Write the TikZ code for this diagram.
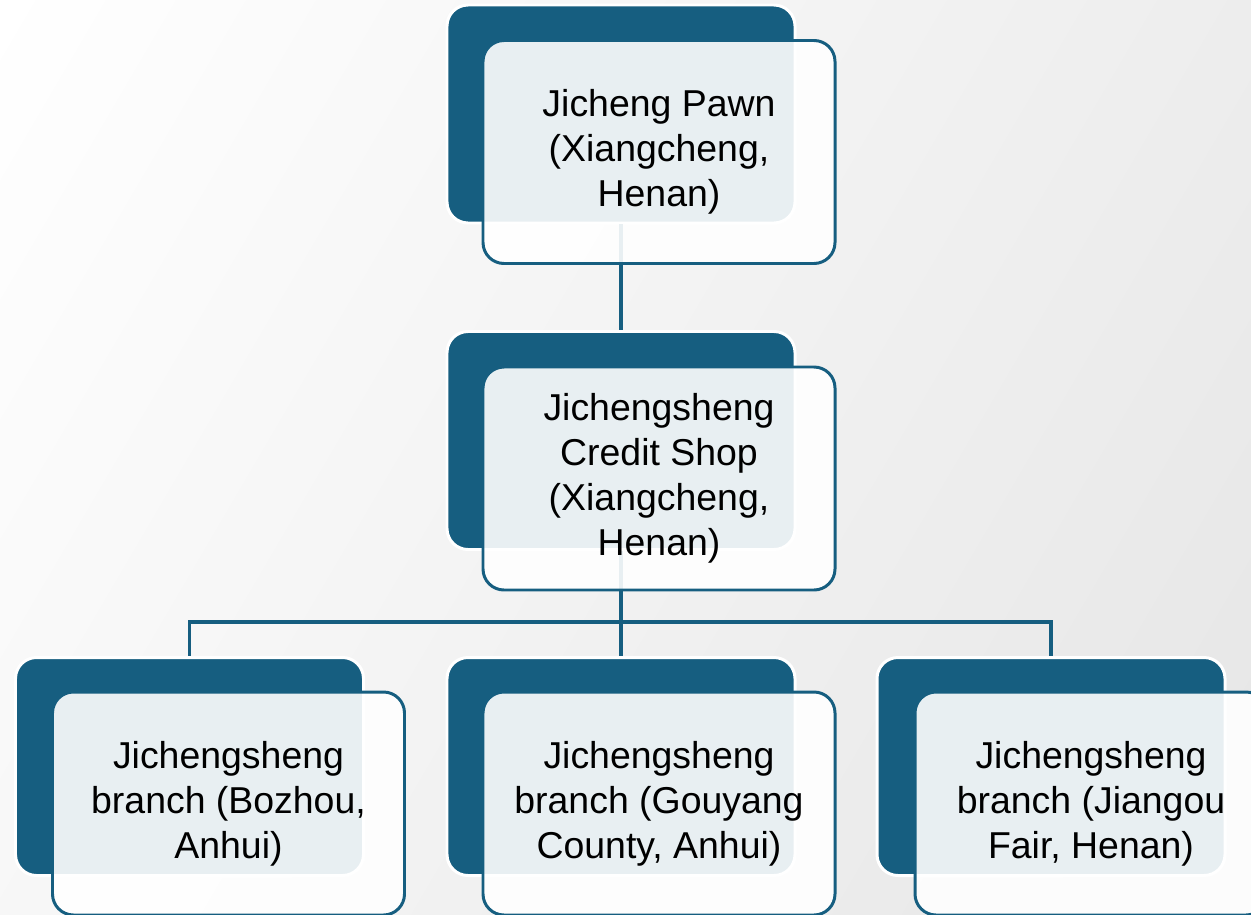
\documentclass[tikz,border=0pt]{standalone}
\usepackage{fontspec}
\setmainfont{Liberation Sans}
\usetikzlibrary{shadings}
\definecolor{darkteal}{RGB}{22,94,128}
\begin{document}
\begin{tikzpicture}[
	backbox/.style={draw=white, line width=1.7pt, fill=darkteal, rounded corners=0.42cm,
		minimum width=6.96cm, minimum height=4.36cm, inner sep=0pt},
	frontbox/.style={draw=darkteal, line width=1.7pt, fill=white, fill opacity=0.9, text opacity=1,
		rounded corners=0.42cm, minimum width=7.04cm, minimum height=4.46cm, inner sep=0pt,
		align=center, font=\fontsize{21.3pt}{25.6pt}\selectfont},
	link/.style={draw=darkteal, line width=2.2pt}]
	\useasboundingbox (0,0) rectangle (25.02,-18.3);
	\clip (0,0) rectangle (25.02,-18.3);
	\shade[upper left=white, upper right=black!7, lower left=black!3, lower right=black!10]
	(0,0) rectangle (25.02,-18.3);
	% back boxes
	\node[backbox] (pawnback) at (12.42,-2.28) {};
	\node[backbox] (shopback) at (12.42,-8.81) {};
	\node[backbox] (bozhouback) at (3.79,-15.33) {};
	\node[backbox] (gouyangback) at (12.42,-15.33) {};
	\node[backbox] (jiangouback) at (21.02,-15.33) {};
	% links
	\coordinate (bar) at (12.42,-12.44);
	\draw[link] (pawnback.south)--(shopback.north);
	\draw[link] (shopback.south)--(bar);
	\draw[link] (bar)-|(bozhouback.north);
	\draw[link] (bar)--(gouyangback.north);
	\draw[link] (bar)-|(jiangouback.north);
	% front boxes
	\node[frontbox] (pawn) at ([shift={(0.76,-0.76)}]pawnback.center)
	{Jicheng Pawn\\(Xiangcheng,\\Henan)};
	\node[frontbox] (shop) at ([shift={(0.76,-0.76)}]shopback.center)
	{Jichengsheng\\Credit Shop\\(Xiangcheng,\\Henan)};
	\node[frontbox] (bozhou) at ([shift={(0.78,-0.74)}]bozhouback.center)
	{Jichengsheng\\branch (Bozhou,\\Anhui)};
	\node[frontbox] (gouyang) at ([shift={(0.76,-0.74)}]gouyangback.center)
	{Jichengsheng\\branch (Gouyang\\County, Anhui)};
	\node[frontbox] (jiangou) at ([shift={(0.8,-0.74)}]jiangouback.center)
	{Jichengsheng\\branch (Jiangou\\Fair, Henan)};
\end{tikzpicture}
\end{document}
